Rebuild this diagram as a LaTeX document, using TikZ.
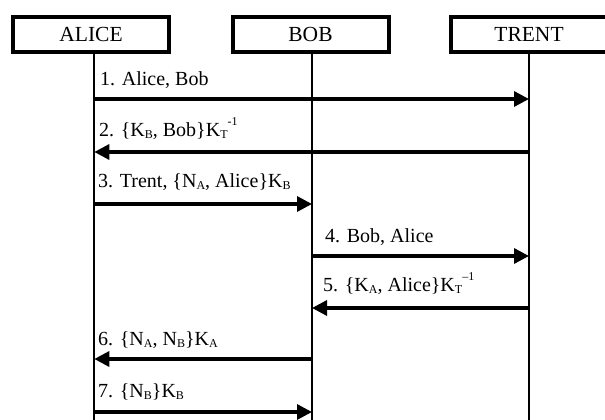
\documentclass[tikz,border=0pt]{standalone}
\usepackage{fontspec}
\setmainfont{Liberation Serif}
\usetikzlibrary{arrows.meta}
% lowered and raised indices for key names
\newcommand\lo[1]{\raisebox{-0.12em}{\fontsize{12}{12}\selectfont #1}}
\newcommand\hi[1]{\raisebox{0.55em}{\fontsize{12}{12}\selectfont #1}}
\begin{document}
\begin{tikzpicture}[x=1pt,y=-1pt,
  actor/.style={draw, line width=4pt, minimum width=156pt, minimum height=35pt,
    inner sep=0pt, font=\fontsize{21.5}{22}\selectfont},
  life/.style={line width=2pt},
  msg/.style={line width=3.3pt, -{Triangle[length=15pt,width=15pt]}},
  lbl/.style={anchor=base west, inner sep=0pt, font=\fontsize{20}{22}\selectfont}]
\clip (0,0) rectangle (605,420);

% participants
\node[actor] (alice) at (91,34.5) {ALICE};
\node[actor] (bob)   at (310.5,34.5) {BOB};
\node[actor] (trent) at (529,34.5) {TRENT};

% lifeline ends
\coordinate (aEnd) at (94.3,425);
\coordinate (bEnd) at (312,425);
\coordinate (tEnd) at (529,425);
\draw[life] (alice.south -| aEnd) -- (aEnd);
\draw[life] (bob.south -| bEnd) -- (bEnd);
\draw[life] (trent.south -| tEnd) -- (tEnd);

% message rows
\coordinate (m1) at (0,99);
\coordinate (m2) at (0,152);
\coordinate (m3) at (0,204);
\coordinate (m4) at (0,256);
\coordinate (m5) at (0,308);
\coordinate (m6) at (0,359);
\coordinate (m7) at (0,412);

\draw[msg] (aEnd |- m1) -- (tEnd |- m1);
\draw[msg] (tEnd |- m2) -- (aEnd |- m2);
\draw[msg] (aEnd |- m3) -- (bEnd |- m3);
\draw[msg] (bEnd |- m4) -- (tEnd |- m4);
\draw[msg] (tEnd |- m5) -- (bEnd |- m5);
\draw[msg] (bEnd |- m6) -- (aEnd |- m6);
\draw[msg] (aEnd |- m7) -- (bEnd |- m7);

% message labels
\node[lbl] (l1) at (100,85)  {1. Alice, Bob};
\node[lbl] (l2) at (99,136)  {2. \{K\lo{B}, Bob\}K\lo{T}\hi{-1}};
\node[lbl] (l3) at (98,187)  {3. Trent, \{N\lo{A}, Alice\}K\lo{B}};
\node[lbl] (l4) at (325,242) {4. Bob, Alice};
\node[lbl] (l5) at (323,291) {5. \{K\lo{A}, Alice\}K\lo{T}\hi{–1}};
\node[lbl] (l6) at (98,345)  {6. \{N\lo{A}, N\lo{B}\}K\lo{A}};
\node[lbl] (l7) at (98,397)  {7. \{N\lo{B}\}K\lo{B}};
\end{tikzpicture}
\end{document}
